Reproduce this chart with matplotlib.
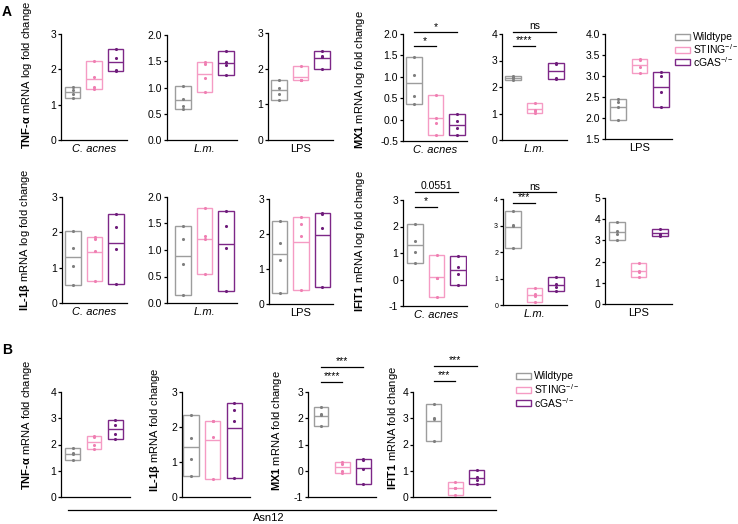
import numpy as np
import matplotlib
matplotlib.use('Agg')
import matplotlib.pyplot as plt
from matplotlib.patches import Rectangle
from matplotlib.lines import Line2D

plt.rcParams['font.family'] = ['Liberation Sans', 'DejaVu Sans']
plt.rcParams['mathtext.fontset'] = 'custom'
plt.rcParams['mathtext.rm'] = 'Liberation Sans'
plt.rcParams['mathtext.bf'] = 'Liberation Sans:bold'
plt.rcParams['mathtext.it'] = 'Liberation Sans:italic'
plt.rcParams['axes.unicode_minus'] = False

# groups: wildtype, STING-/-, cGAS-/-
groups = ['Wildtype', 'STING$^{-/-}$', 'cGAS$^{-/-}$']
colors = ['#9d9d9d', '#f59bc4', '#7d2787']
dot_colors = ['#7f7f7f', '#ef7fb2', '#6e1c7a']

# A: log fold change, 4 replicates per group
tnf_cacnes = [[1.51, 1.42, 1.30, 1.18], [2.24, 1.78, 1.49, 1.44], [2.57, 2.31, 1.97, 1.95]]
tnf_lm = [[1.02, 0.78, 0.64, 0.60], [1.48, 1.45, 1.18, 0.92], [1.70, 1.49, 1.43, 1.24]]
tnf_lps = [[1.67, 1.47, 1.30, 1.13], [2.08, 1.68, 1.67, 1.67], [2.50, 2.35, 2.34, 1.98]]
mx1_cacnes = [[1.46, 1.05, 0.55, 0.37], [0.585, 0.04, -0.09, -0.37], [0.14, -0.04, -0.19, -0.37]]
mx1_lm = [[2.42, 2.36, 2.33, 2.25], [1.41, 1.15, 1.08, 1.03], [2.89, 2.87, 2.34, 2.30]]
mx1_lps = [[2.45, 2.38, 2.26, 1.96], [3.40, 3.39, 3.21, 3.07], [3.09, 3.00, 2.62, 2.26]]
il1b_cacnes = [[2.04, 1.57, 1.06, 0.51], [1.87, 1.82, 1.46, 0.61], [2.52, 2.16, 1.53, 0.55]]
il1b_lm = [[1.46, 1.21, 0.74, 0.16], [1.79, 1.27, 1.21, 0.55], [1.74, 1.46, 1.04, 0.22]]
il1b_lps = [[2.37, 1.74, 1.27, 0.31], [2.50, 2.30, 1.95, 0.39], [2.60, 2.58, 2.17, 0.48]]
ifit1_cacnes = [[2.08, 1.47, 1.04, 0.63], [0.92, 0.06, 0.05, -0.67], [0.88, 0.46, 0.21, -0.19]]
ifit1_lm = [[3.56, 3.03, 2.98, 2.16], [0.64, 0.40, 0.34, 0.13], [1.07, 0.81, 0.68, 0.53]]
ifit1_lps = [[3.85, 3.45, 3.31, 3.01], [1.92, 1.58, 1.53, 1.26], [3.56, 3.31, 3.26, 3.19]]

# B: Asn12 fold change
tnf_asn12 = [[1.85, 1.67, 1.63, 1.42], [2.33, 2.28, 1.97, 1.82], [2.92, 2.75, 2.41, 2.22]]
il1b_asn12 = [[2.33, 1.69, 1.08, 0.61], [2.17, 2.17, 1.71, 0.51], [2.69, 2.49, 2.17, 0.55]]
mx1_asn12 = [[2.43, 2.16, 2.11, 1.71], [0.33, 0.27, 0.00, -0.10], [0.46, 0.40, 0.05, -0.51]]
ifit1_asn12 = [[3.54, 3.00, 2.96, 2.13], [0.56, 0.35, 0.33, 0.09], [1.04, 0.78, 0.63, 0.51]]

W, H = 738, 524
fig = plt.figure(figsize=(W / 100, H / 100), dpi=100)


def make_ax(data, x0, x1, c0, top, bot, yticks, fmt, xlabel=None, sp=21.5, tsize=7.5):
    ax = fig.add_axes([x0 / W, 1 - bot / H, (x1 - x0) / W, (bot - top) / H])
    for i, vals in enumerate(data):
        vals = np.array(vals)
        lo, hi = vals.min(), vals.max()
        ax.bar(i, hi - lo, bottom=lo, width=0.7, fill=False,
               edgecolor=colors[i], linewidth=1.0)
        ax.hlines(vals.mean(), i - 0.35, i + 0.35, color=colors[i], lw=1.0)
        ax.scatter([i] * len(vals), vals, s=5, color=dot_colors[i], zorder=3, linewidths=0)
    ax.set_xlim((x0 - c0) / sp, (x1 - c0) / sp)
    ax.set_ylim(yticks[0], yticks[-1])
    ax.set_yticks(yticks)
    ax.set_yticklabels([fmt % t for t in yticks], fontsize=tsize)
    ax.spines['top'].set_visible(False)
    ax.spines['right'].set_visible(False)
    ax.spines['left'].set_linewidth(0.9)
    ax.spines['bottom'].set_linewidth(0.9)
    ax.tick_params(axis='y', length=2.5, width=0.9, pad=1)
    if xlabel:
        ax.set_xticks([1])
        ax.set_xticklabels([xlabel], fontsize=8,
                           style='italic' if xlabel != 'LPS' else 'normal')
        ax.tick_params(axis='x', length=0, pad=3)
    else:
        ax.set_xticks([])
    return ax


def sig(ax, a, b, y, txt):
    ax.plot([a, b], [y, y], color='black', lw=0.9, clip_on=False)
    ax.annotate(txt, ((a + b) / 2, y), xytext=(0, 0.5), textcoords='offset points',
                ha='center', va='bottom', fontsize=7.5, annotation_clip=False)


def ylab(x, y, txt):
    fig.text(x / W, 1 - y / H, txt, rotation=90, ha='center', va='center', fontsize=8)


# row 1
make_ax(tnf_cacnes, 61, 127, 72.5, 34, 140, [0, 1, 2, 3], '%d', 'C. acnes')
make_ax(tnf_lm, 167, 237, 183, 35, 140, [0, 0.5, 1.0, 1.5, 2.0], '%.1f', 'L.m.')
make_ax(tnf_lps, 268, 333, 279, 33, 140, [0, 1, 2, 3], '%d', 'LPS')
ax = make_ax(mx1_cacnes, 403, 467, 414, 34, 141, [-0.5, 0, 0.5, 1.0, 1.5, 2.0], '%.1f', 'C. acnes')
sig(ax, 0, 1, 1.71, '*')
sig(ax, 0, 2, 2.04, '*')
ax = make_ax(mx1_lm, 502, 567, 513, 34, 140, [0, 1, 2, 3, 4], '%d', 'L.m.')
sig(ax, 0, 1, 3.56, '****')
sig(ax, 0, 2, 4.08, 'ns')
make_ax(mx1_lps, 605, 672, 618, 34, 139, [1.5, 2.0, 2.5, 3.0, 3.5, 4.0], '%.1f', 'LPS')

# row 2
make_ax(il1b_cacnes, 62, 127, 73, 197, 303, [0, 1, 2, 3], '%d', 'C. acnes')
make_ax(il1b_lm, 167, 237, 183, 197, 303, [0, 0.5, 1.0, 1.5, 2.0], '%.1f', 'L.m.')
make_ax(il1b_lps, 269, 333, 279.5, 199, 304, [0, 1, 2, 3], '%d', 'LPS')
ax = make_ax(ifit1_cacnes, 403, 467, 415, 200, 306, [-1, 0, 1, 2, 3], '%d', 'C. acnes')
sig(ax, 0, 1, 2.75, '*')
sig(ax, 0, 2, 3.30, '0.0551')
ax = make_ax(ifit1_lm, 503, 567, 513, 199, 305, [0, 1, 2, 3, 4], '%d', 'L.m.', tsize=5)
sig(ax, 0, 1, 3.84, '***')
sig(ax, 0, 2, 4.25, 'ns')
make_ax(ifit1_lps, 605, 672, 617, 198, 304, [0, 1, 2, 3, 4, 5], '%d', 'LPS')

# panel B
make_ax(tnf_asn12, 61, 130, 72.8, 392, 497, [0, 1, 2, 3, 4], '%d', sp=21.2)
make_ax(il1b_asn12, 182, 250, 191, 392, 497, [0, 1, 2, 3], '%d', sp=21.7)
ax = make_ax(mx1_asn12, 308, 376, 321, 392, 497, [-1, 0, 1, 2, 3], '%d', sp=21.2)
sig(ax, 0, 1, 3.39, '****')
sig(ax, 0, 2, 3.96, '***')
ax = make_ax(ifit1_asn12, 413, 490, 433.5, 392, 497, [0, 1, 2, 3, 4], '%d', sp=21.6)
sig(ax, 0, 1, 4.43, '***')
sig(ax, 0, 2, 5.0, '***')

# y labels
ylab(27, 75, '$\\mathbf{TNF‐α}$ mRNA log fold change')
ylab(360, 80, '$\\mathbf{MX1}$ mRNA log fold change')
ylab(25, 240, '$\\mathbf{IL‐1β}$ mRNA log fold change')
ylab(360, 241, '$\\mathbf{IFIT1}$ mRNA log fold change')
ylab(27, 425, '$\\mathbf{TNF‐α}$ mRNA fold change')
ylab(155, 430, '$\\mathbf{IL‐1β}$ mRNA fold change')
ylab(277, 431, '$\\mathbf{MX1}$ mRNA fold change')
ylab(393, 428, '$\\mathbf{IFIT1}$ mRNA fold change')

# panel letters
fig.text(2 / W, 1 - 12 / H, 'A', fontsize=10, fontweight='bold', va='center')
fig.text(2 / W, 1 - 350 / H, 'B', fontsize=10, fontweight='bold', va='center')

# legends
for lx, ys in [(675, [37, 49.5, 62]), (516, [376, 389.5, 403])]:
    for g, c, y in zip(groups, colors, ys):
        fig.add_artist(Rectangle((lx / W, 1 - (y + 3) / H), 15 / W, 6 / H,
                                 transform=fig.transFigure, fill=False, ec=c, lw=1.0))
        fig.text((lx + 18) / W, 1 - y / H, g, fontsize=7.5, va='center')

# Asn12 bracket
fig.add_artist(Line2D([68 / W, 496 / W], [1 - 510 / H] * 2, color='black', lw=0.9,
                      transform=fig.transFigure))
fig.text(269 / W, 1 - 518 / H, 'Asn12', fontsize=8, ha='center', va='center')

plt.savefig('out.png', dpi=100)
